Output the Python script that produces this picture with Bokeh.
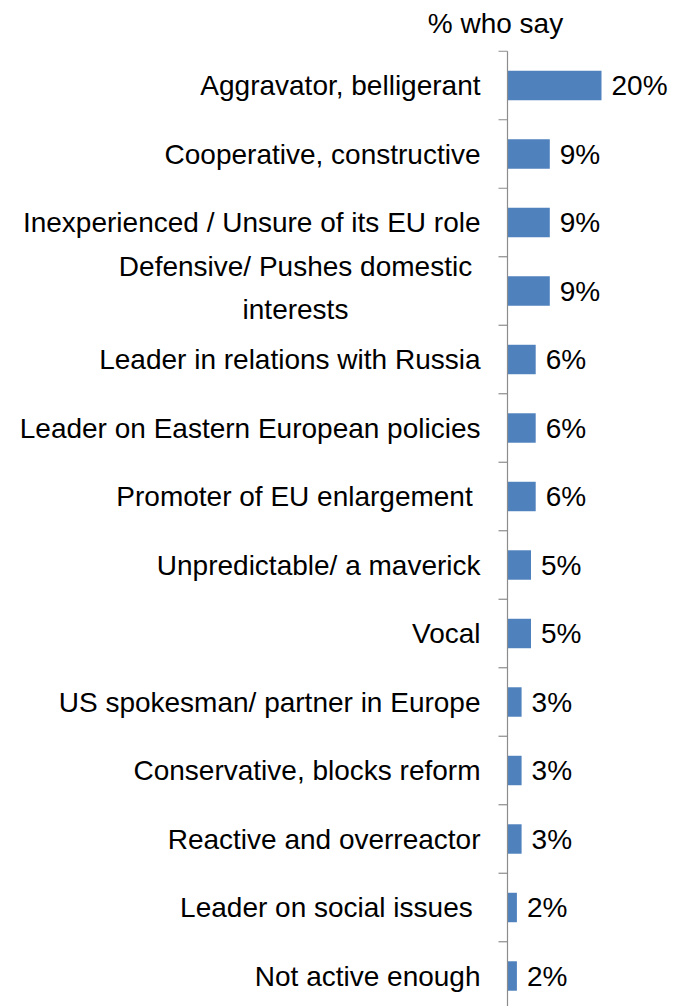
from bokeh.plotting import figure
from bokeh.models import Range1d, ColumnDataSource
from bokeh.core.properties import value
from bokeh.embed import file_html
from bokeh.resources import INLINE

categories = [
    "Aggravator, belligerant",
    "Cooperative, constructive",
    "Inexperienced / Unsure of its EU role",
    "Defensive/ Pushes domestic\ninterests",
    "Leader in relations with Russia",
    "Leader on Eastern European policies",
    "Promoter of EU enlargement ",
    "Unpredictable/ a maverick",
    "Vocal",
    "US spokesman/ partner in Europe",
    "Conservative, blocks reform",
    "Reactive and overreactor",
    "Leader on social issues ",
    "Not active enough",
]
values = [20, 9, 9, 9, 6, 6, 6, 5, 5, 3, 3, 3, 2, 2]
title_text = "% who say"

FONT = "Liberation Sans"
FS = "28px"

n = len(categories)
idx = list(range(n))

W, H = 673, 1006
axis_px = 507          # pixel position of the zero line inside the figure
px_per_unit = 4.7
row_px = 68.5
first_center_px = 85

x0 = -axis_px / px_per_unit
x1 = (W - axis_px) / px_per_unit
ytop = -first_center_px / row_px
ybot = (H - first_center_px) / row_px

p = figure(width=W, height=H, output_backend="svg", toolbar_location=None,
           x_range=Range1d(x0, x1), y_range=Range1d(ybot, ytop),
           min_border=0, outline_line_color=None)
p.axis.visible = False
p.grid.visible = False
p.background_fill_color = "white"
p.border_fill_color = "white"

src = ColumnDataSource(dict(
    y=idx, v=values,
    lab=[f"{v}%" for v in values],
))
p.hbar(y="y", left=0, right="v", height=0.43, source=src,
       fill_color="#4F81BD", line_color=None)

p.text(x="v", y="y", text="lab", source=src, x_offset=10,
       text_align="left", text_baseline="middle",
       text_font=value(FONT), text_font_size=FS, text_color="black")

single = [i for i in idx if "\n" not in categories[i]]
multi = [i for i in idx if "\n" in categories[i]]
p.text(x=[0] * len(single), y=single, text=[categories[i] for i in single],
       x_offset=-27, text_align="right", text_baseline="middle",
       text_font=value(FONT), text_font_size=FS, text_color="black")
p.text(x=[0] * len(multi), y=multi, text=[categories[i] for i in multi],
       x_offset=-212, y_offset=-3, text_align="center", text_baseline="middle",
       text_line_height=1.4,
       text_font=value(FONT), text_font_size=FS, text_color="black")

# axis line and separator ticks
p.segment(x0=[0], y0=[-0.5], x1=[0], y1=[n - 0.5], line_color="#8C8C8C", line_width=1.2)
ticks = [i - 0.5 for i in range(n + 1)]
p.segment(x0=[-9 / px_per_unit] * len(ticks), y0=ticks, x1=[0] * len(ticks), y1=ticks,
          line_color="#8C8C8C", line_width=1.2)

p.text(x=[0], y=[-0.5], text=[title_text], x_offset=-12, y_offset=-28,
       text_align="center", text_baseline="middle",
       text_font=value(FONT), text_font_size="28px", text_color="black")

open("out.html", "w").write(file_html(p, INLINE))
